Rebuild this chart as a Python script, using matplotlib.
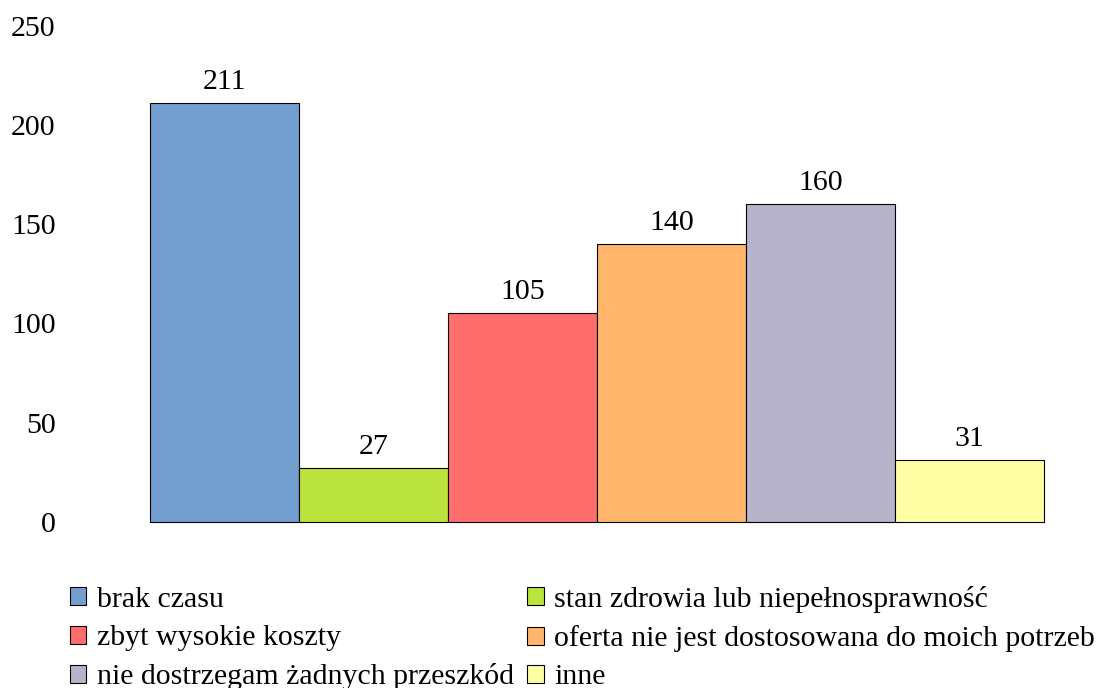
import matplotlib.pyplot as plt
from matplotlib.patches import Patch

plt.rcParams['font.family'] = ['Liberation Serif', 'DejaVu Serif']

# dane z wykresu
kategorie = ["brak czasu", "stan zdrowia lub niepełnosprawność", "zbyt wysokie koszty",
             "oferta nie jest dostosowana do moich potrzeb", "nie dostrzegam żadnych przeszkód", "inne"]
wartosci = [211, 27, 105, 140, 160, 31]
kolory = ["#729FCF", "#BBE33D", "#FF6D6D", "#FFB66C", "#B7B3CA", "#FFFFA6"]
yticks = [0, 50, 100, 150, 200, 250]

FS = 21.5

fig = plt.figure(figsize=(11.04, 6.88), dpi=100)
ax = fig.add_axes([150 / 1104, 1 - 522 / 688, 894 / 1104, 496.5 / 688])

x = range(len(wartosci))
bars = ax.bar(x, wartosci, width=1.0, color=kolory, edgecolor="black", linewidth=0.8,
              clip_on=False)

# etykiety nad slupkami
for b, v in zip(bars, wartosci):
    ax.annotate(str(v), (b.get_x() + b.get_width() / 2, v), xytext=(0, 6),
                textcoords="offset points", ha="center", va="bottom", fontsize=FS)

ax.set_xlim(-0.5, len(wartosci) - 0.5)
ax.set_ylim(0, 250)
ax.set_yticks(yticks)
ax.set_yticklabels([str(t) for t in yticks], fontsize=FS)
ax.tick_params(axis="y", length=0, pad=68)
ax.set_xticks([])
for s in ax.spines.values():
    s.set_visible(False)

# legenda: kolumny uzupelniane pionowo, wiec kolejnosc przestawiona
order = [0, 2, 4, 1, 3, 5]
handles = [Patch(facecolor=kolory[i], edgecolor="black", linewidth=0.8) for i in order]
labels = [kategorie[i] for i in order]
fig.legend(handles, labels, loc="upper left", bbox_to_anchor=(58 / 1104, 1 - 574 / 688),
           ncol=2, frameon=False, fontsize=FS, handlelength=0.55, handleheight=0.55,
           handletextpad=0.35, columnspacing=0.45, labelspacing=0.41, borderaxespad=0)

fig.savefig("out.png", dpi=100)
